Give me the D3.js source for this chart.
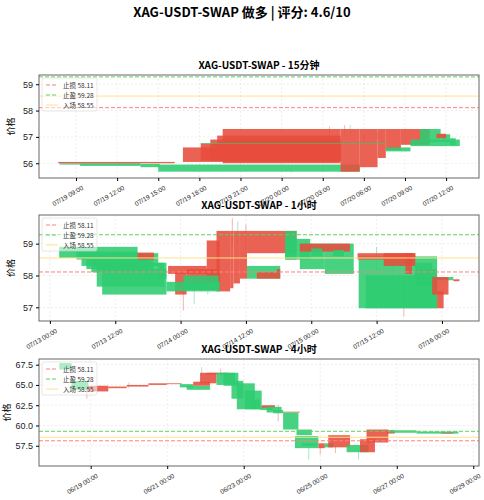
<!DOCTYPE html>
<html><head><meta charset="utf-8">
<script src="https://cdn.jsdelivr.net/npm/d3@7"></script>
<style>body{margin:0;background:#fff}svg{font-family:"Noto Sans CJK SC","Noto Sans",sans-serif}</style>
</head><body><svg id="c" width="484" height="500"></svg>
<script>
const mainTitle = "XAG-USDT-SWAP 做多 | 评分: 4.6/10";
const panelTitles = ["XAG-USDT-SWAP - 15分钟","XAG-USDT-SWAP - 1小时","XAG-USDT-SWAP - 4小时"];
const levels = {stop:58.11, take:59.28, entry:58.55};
const legendLabels = ["止损 58.11","止盈 59.28","入场 58.55"];

// panel 1 candles (hours since 2025-07-19 00:00): [start, end, open, close]
const p1Candles = [
 [7.8,13.7,56.0,55.95],[9.3,13.7,55.98,55.9],[13.7,15.1,55.98,55.85],[15.0,29.7,55.95,55.68],
 [7.7,16.2,56.0,56.05],[16.8,28.3,56.05,56.6],[18.1,28.3,56.1,56.75],[18.8,28.3,56.1,56.9],[19.3,28.3,56.1,57.05],
 [19.7,28.3,56.0,57.3],[28.3,29.7,55.68,57.3],[29.7,31.0,55.85,57.3],[31.0,31.6,56.2,57.3],[31.6,32.7,56.5,57.3],[32.7,34.8,56.7,57.3],
 [18.1,31.6,56.76,56.73],[31.6,33.4,56.6,56.45],
 [33.4,37.0,56.9,56.65],[34.1,35.6,57.3,56.8],[35.6,36.3,57.1,56.8],[36.3,36.7,56.95,56.7],[35.3,36.0,56.95,57.12]
];
const p1Wicks = [[28.6,57.45,57.0],[29.0,57.45,57.1],[27.5,57.4,56.9],[24.5,57.0,56.6],[23.5,56.7,56.4],[24.7,55.9,55.65],[31.0,57.2,56.9],[26.0,56.8,56.5],[30.0,57.1,56.8]];
// panel 2 candles (hours since 2025-07-13 00:00)
const p2Candles = [
 [1.7,16.1,58.9,58.55],[4.9,16.1,58.75,58.5],[5.8,17,58.7,58.3],[6.7,18,58.6,58.2],[7.6,19,58.5,58.1],[8.6,21,58.4,57.65],[9.6,21.4,58.2,57.4],
 [16.1,19.9,58.7,58.3],[19.9,21.4,58.4,57.9],[16.1,19.1,58.5,58.72],
 [21.7,28.8,58.05,58.3],[23.0,25.1,57.4,58.1],[25.1,31.2,57.55,58.2],[28.8,31.2,57.55,59.1],[30.6,33.1,57.5,59.4],[33.1,33.7,57.6,59.4],[33.7,34.9,57.75,59.4],[34.9,36.2,57.9,59.4],[36.2,45.3,58.7,59.4],
 [21.4,31.2,57.8,57.5],[24.5,31.0,58.0,57.55],
 [36.2,42.3,58.3,57.9],[38,41.7,57.9,58.1],[41.7,42.3,57.9,58.2],
 [43.2,45.3,59.4,58.5],[43.2,47.8,59.15,58.5],[45.9,50.5,59.0,58.2],[50.5,55.8,59.0,58.05],
 [45.9,55.1,58.75,59.0],[48,50,58.85,58.6],[52,54,58.8,58.6],
 [56.7,71.1,58.6,56.97],[58,71.1,58.0,56.97],
 [56.5,67.1,58.5,58.7],[61.3,67.1,58.3,58.7],[65.3,66.5,58.05,58.7],
 [67.1,70.2,58.4,58.0],[67.1,71.1,58.2,57.7],[71.1,74.1,57.95,57.85],
 [70.2,73.2,57.4,57.95],[71.1,72.3,56.97,57.5],[74.1,75.2,57.82,57.88]
];
const p2Wicks = [[33.5,59.8,59.0],[34.5,59.7,59.0],[36,59.6,58.8],[26.5,57.6,57.1],[24.5,57.7,56.9],[29,57.5,57.4],[71,57.5,56.97],[63,58.7,57.3],[65,57.9,56.7],[60,58.9,58.1],[47,59.1,58.8],[12,58.8,58.3],[18,58.3,57.8]];
// panel 3 candles (days since 2025-06-17 00:00)
const p3Candles = [
 [1.18,1.50,67.7,66.9],[1.50,1.94,65.5,64.4],[1.91,2.46,64.2,64.9],[2.46,2.94,64.6,64.8],[2.94,3.51,64.8,65.0],[3.51,3.99,65.0,65.2],[3.99,4.38,65.1,65.2],
 [4.33,4.68,65.1,64.7],[4.51,5.12,64.9,64.4],[4.68,5.12,64.9,65.4],[4.86,5.29,65.2,66.5],[5.03,5.60,66.3,66.5],
 [5.29,5.77,66.5,65.0],[5.47,5.86,66.5,64.9],[5.68,5.99,65.5,63.3],[5.82,6.29,65.2,62.0],[6.03,6.47,64.3,62.0],[6.25,6.43,63.2,62.0],
 [6.43,6.77,62.3,61.9],[6.47,6.82,62.2,62.5],[6.60,6.99,62.3,61.6],[6.77,7.03,61.9,61.5],[7.03,7.47,61.6,61.7],
 [7.03,7.43,61.6,59.5],[7.38,7.78,59.5,58.8],[7.34,7.95,58.7,57.2],[7.51,7.91,57.8,57.5],[7.95,8.12,57.2,57.8],[8.12,8.34,57.8,57.3],
 [8.21,8.78,57.3,58.8],[8.69,9.26,57.6,56.7],[9.04,9.43,56.7,58.3],[9.21,9.78,57.9,59.5],[9.74,9.95,59.0,59.4],
 [9.82,10.52,59.4,59.1],[10.52,11.61,59.25,59.0],[11.17,11.48,59.0,59.1]
];
const p3Wicks = [[1.9,64.9,63.3],[4.9,67.2,65.5],[5.4,67.0,66.2],[7.7,58.0,55.8],[8.0,57.5,56.4],[9.0,57.0,55.8],[6.9,62.6,60.5],[3.0,65.3,64.6],[8.4,57.5,56.6]];

const panels = [
 {title:panelTitles[0], base:new Date(2025,6,19), unit:3600e3, candles:p1Candles, wicks:p1Wicks,
  x0:new Date(2025,6,19,6,18), x1:new Date(2025,6,20,14,24), y:[55.44,59.35], yt:[56,57,58,59],
  xt:d3.timeHour.every(3), top:75, bottom:178},
 {title:panelTitles[1], base:new Date(2025,6,13), unit:3600e3, candles:p2Candles, wicks:p2Wicks,
  x0:new Date(2025,6,12,22,0), x1:new Date(2025,6,16,6,48), y:[56.57,59.9], yt:[57,58,59],
  xt:d3.timeHour.every(12), top:215, bottom:321},
 {title:panelTitles[2], base:new Date(2025,5,17), unit:86400e3, candles:p3Candles, wicks:p3Wicks,
  x0:new Date(2025,5,17,15,35), x1:new Date(2025,5,29,3,36), y:[55.0,68.2], yt:[57.5,60,62.5,65,67.5],
  xt:d3.timeDay.every(2), top:359, bottom:466}
];
const svg = d3.select("#c");
const L=39, R=479;
svg.append("text").attr("x",242).attr("y",17).attr("text-anchor","middle").attr("font-size",13).attr("font-weight","bold").text(mainTitle);
const fmt = d3.timeFormat("%m/%d %H:%M");
panels.forEach((p,i)=>{
  const x=d3.scaleTime().domain([p.x0,p.x1]).range([L,R]);
  const y=d3.scaleLinear().domain(p.y).range([p.bottom,p.top]);
  const T=v=>new Date(+p.base+v*p.unit);
  const g=svg.append("g");
  let ticks = p.xt.range(p.x0,p.x1);
  if(i==2) ticks = ticks.filter(t=>((t-new Date(2025,5,19))/86400e3)%2===0);
  g.selectAll(".gx").data(ticks).join("line").attr("x1",d=>x(d)).attr("x2",d=>x(d)).attr("y1",p.top).attr("y2",p.bottom).attr("stroke","#ddd").attr("stroke-width",0.5).attr("stroke-dasharray","2,2");
  g.selectAll(".gy").data(p.yt).join("line").attr("x1",L).attr("x2",R).attr("y1",d=>y(d)).attr("y2",d=>y(d)).attr("stroke","#ddd").attr("stroke-width",0.5).attr("stroke-dasharray","2,2");
  const clip="clip"+i;
  svg.append("clipPath").attr("id",clip).append("rect").attr("x",L).attr("y",p.top).attr("width",R-L).attr("height",p.bottom-p.top);
  const cg=g.append("g").attr("clip-path",`url(#${clip})`);
  cg.selectAll(".w").data(p.wicks).join("line").attr("x1",d=>x(T(d[0]))).attr("x2",d=>x(T(d[0]))).attr("y1",d=>y(d[1])).attr("y2",d=>y(d[2])).attr("stroke",(d,k)=>k%2?"#2ecc71":"#e74c3c").attr("stroke-width",0.8).attr("opacity",0.5);
  cg.selectAll(".c").data(p.candles).join("rect")
    .attr("x",d=>x(T(d[0]))).attr("width",d=>x(T(d[1]))-x(T(d[0])))
    .attr("y",d=>y(Math.max(d[2],d[3]))).attr("height",d=>Math.max(0.8,Math.abs(y(d[2])-y(d[3]))))
    .attr("fill",d=>d[3]>d[2]?"#e74c3c":"#2ecc71").attr("opacity",0.88);
  cg.append("line").attr("x1",L).attr("x2",R).attr("y1",y(levels.stop)).attr("y2",y(levels.stop)).attr("stroke","#ff7f7f").attr("stroke-dasharray","4,2").attr("stroke-width",1);
  cg.append("line").attr("x1",L).attr("x2",R).attr("y1",y(levels.take)).attr("y2",y(levels.take)).attr("stroke","#5fd35f").attr("stroke-dasharray","4,2").attr("stroke-width",1);
  cg.append("line").attr("x1",L).attr("x2",R).attr("y1",y(levels.entry)).attr("y2",y(levels.entry)).attr("stroke","#ffe08a").attr("stroke-width",1);
  g.append("rect").attr("x",L).attr("y",p.top).attr("width",R-L).attr("height",p.bottom-p.top).attr("fill","none").attr("stroke","#666").attr("stroke-width",1);
  const yA=g.append("g").attr("transform",`translate(${L},0)`).call(d3.axisLeft(y).tickValues(p.yt).tickSize(3).tickFormat(i==2?d3.format(".1f"):d3.format("d")));
  yA.select(".domain").remove(); yA.selectAll("text").attr("font-size",9).attr("fill","#222");
  const xA=g.append("g").attr("transform",`translate(0,${p.bottom})`).call(d3.axisBottom(x).tickValues(ticks).tickSize(3).tickFormat(fmt));
  xA.select(".domain").remove();
  xA.selectAll("text").attr("font-size",6.5).attr("fill","#222").attr("text-anchor","end").attr("transform","translate(2,2) rotate(-30)");
  g.append("text").attr("transform",`translate(${i==2?10:14},${(p.top+p.bottom)/2}) rotate(-90)`).attr("text-anchor","middle").attr("font-size",9).text("价格");
  g.append("text").attr("x",(L+R)/2).attr("y",p.top-6).attr("text-anchor","middle").attr("font-size",10).attr("font-weight","bold").text(p.title);
  const lg=g.append("g").attr("transform",`translate(${L+3},${p.top+3})`);
  lg.append("rect").attr("width",55).attr("height",33).attr("fill","#fff").attr("fill-opacity",0.55).attr("stroke","#ccc").attr("stroke-width",0.5).attr("rx",2);
  const lc=[["#ff7f7f","4,2"],["#5fd35f","4,2"],["#ffe08a",null]];
  legendLabels.forEach((t,k)=>{
    const yy=7+k*10;
    lg.append("line").attr("x1",4).attr("x2",16).attr("y1",yy).attr("y2",yy).attr("stroke",lc[k][0]).attr("stroke-dasharray",lc[k][1]);
    lg.append("text").attr("x",21).attr("y",yy+2.5).attr("font-size",6.5).attr("fill","#333").text(t);
  });
});
</script></body></html>
